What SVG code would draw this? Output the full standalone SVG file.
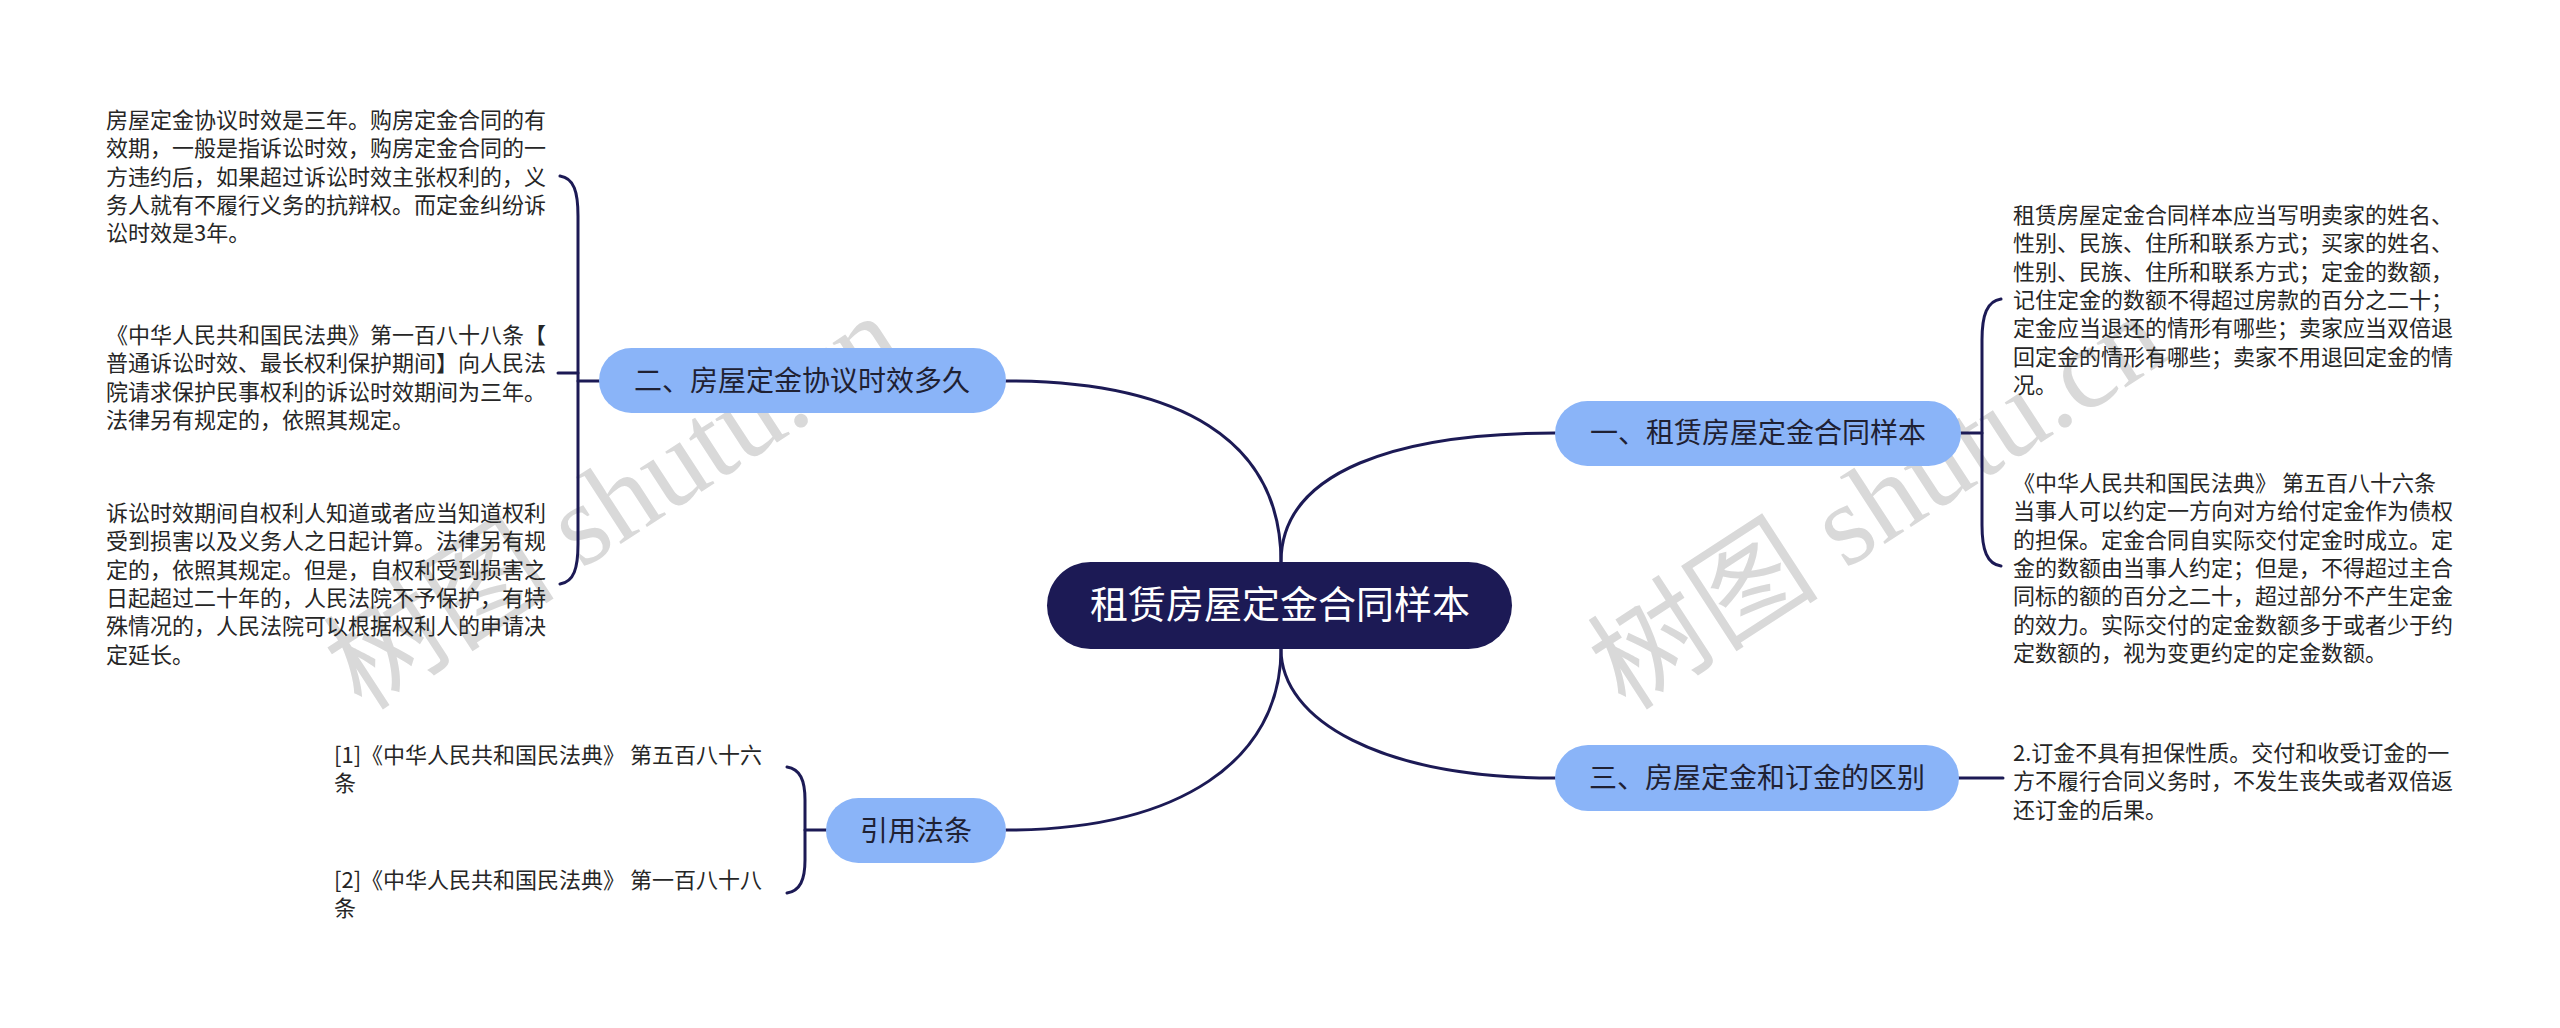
<svg xmlns="http://www.w3.org/2000/svg" width="2560" height="1028" viewBox="0 0 2560 1028">
<style>
.wm{font-family:"Liberation Serif","Noto Sans CJK SC",serif;font-size:116px;fill:#d9d9d9;}
.c{fill:none;stroke:#1c1a55;stroke-width:3;stroke-linecap:round;}
.root{fill:#1c1a55;}
.sub{fill:#8ab4f8;}
.rt{font-family:"Noto Sans CJK SC","Noto Sans",sans-serif;font-size:38px;fill:#ffffff;text-anchor:middle;}
.st{font-family:"Noto Sans CJK SC","Noto Sans",sans-serif;font-size:28px;fill:#1f2133;text-anchor:middle;}
.t{font-family:"Noto Sans CJK SC","Noto Sans",sans-serif;font-size:22px;fill:#262626;}
</style>
<rect width="2560" height="1028" fill="#ffffff"/>
<g id="watermarks">
<text class="wm" transform="translate(362,712) rotate(-33)">树图 shutu.cn</text>
<text class="wm" transform="translate(1626,712) rotate(-33)">树图 shutu.cn</text>
</g>
<g id="connectors">
<path class="c" d="M1281,562 C1281,440 1180,381 1006,381"/>
<path class="c" d="M1281,562 C1281,470 1400,433 1555,433"/>
<path class="c" d="M1281,649 C1281,720 1380,778 1555,778"/>
<path class="c" d="M1281,649 C1281,760 1180,830 1006,830"/>
<path class="c" d="M560,176 C574,178 578,192 578,216 L578,544 C578,568 574,582 560,584"/>
<path class="c" d="M558,373 L578,373"/>
<path class="c" d="M578,381 L599,381"/>
<path class="c" d="M2001,299 C1987,301 1982,315 1982,340 L1982,525 C1982,550 1987,564 2001,566"/>
<path class="c" d="M1961,433 L1982,433"/>
<path class="c" d="M787,767 C800,769 805,780 805,800 L805,860 C805,880 800,891 787,893"/>
<path class="c" d="M805,830 L826,830"/>
<path class="c" d="M1958,778 L2003,778"/>
</g>
<g id="root">
<rect class="root" x="1047" y="562" width="465" height="87" rx="43.5"/>
<text class="rt" x="1280" y="618">租赁房屋定金合同样本</text>
</g>
<g id="node-2">
<rect class="sub" x="599" y="348" width="407" height="65" rx="32.5"/>
<text class="st" x="802" y="391">二、房屋定金协议时效多久</text>
</g>
<g id="node-1">
<rect class="sub" x="1555" y="401" width="406" height="65" rx="32.5"/>
<text class="st" x="1758" y="443">一、租赁房屋定金合同样本</text>
</g>
<g id="node-3">
<rect class="sub" x="1555" y="745" width="404" height="66" rx="33"/>
<text class="st" x="1757" y="788">三、房屋定金和订金的区别</text>
</g>
<g id="node-ref">
<rect class="sub" x="826" y="798" width="180" height="65" rx="32.5"/>
<text class="st" x="916" y="841">引用法条</text>
</g>
<g id="leaf-2a">
<text class="t" x="106" y="128"><tspan x="106">房屋定金协议时效是三年。购房定金合同的有</tspan><tspan x="106" dy="28.3">效期，一般是指诉讼时效，购房定金合同的一</tspan><tspan x="106" dy="28.3">方违约后，如果超过诉讼时效主张权利的，义</tspan><tspan x="106" dy="28.3">务人就有不履行义务的抗辩权。而定金纠纷诉</tspan><tspan x="106" dy="28.3">讼时效是3年。</tspan></text>
</g>
<g id="leaf-2b">
<text class="t" x="106" y="343"><tspan x="106">《中华人民共和国民法典》第一百八十八条【</tspan><tspan x="106" dy="28.3">普通诉讼时效、最长权利保护期间】向人民法</tspan><tspan x="106" dy="28.3">院请求保护民事权利的诉讼时效期间为三年。</tspan><tspan x="106" dy="28.3">法律另有规定的，依照其规定。</tspan></text>
</g>
<g id="leaf-2c">
<text class="t" x="106" y="521"><tspan x="106">诉讼时效期间自权利人知道或者应当知道权利</tspan><tspan x="106" dy="28.3">受到损害以及义务人之日起计算。法律另有规</tspan><tspan x="106" dy="28.3">定的，依照其规定。但是，自权利受到损害之</tspan><tspan x="106" dy="28.3">日起超过二十年的，人民法院不予保护，有特</tspan><tspan x="106" dy="28.3">殊情况的，人民法院可以根据权利人的申请决</tspan><tspan x="106" dy="28.3">定延长。</tspan></text>
</g>
<g id="leaf-1a">
<text class="t" x="2013" y="223"><tspan x="2013">租赁房屋定金合同样本应当写明卖家的姓名、</tspan><tspan x="2013" dy="28.3">性别、民族、住所和联系方式；买家的姓名、</tspan><tspan x="2013" dy="28.3">性别、民族、住所和联系方式；定金的数额，</tspan><tspan x="2013" dy="28.3">记住定金的数额不得超过房款的百分之二十；</tspan><tspan x="2013" dy="28.3">定金应当退还的情形有哪些；卖家应当双倍退</tspan><tspan x="2013" dy="28.3">回定金的情形有哪些；卖家不用退回定金的情</tspan><tspan x="2013" dy="28.3">况。</tspan></text>
</g>
<g id="leaf-1b">
<text class="t" x="2013" y="491"><tspan x="2013">《中华人民共和国民法典》 第五百八十六条</tspan><tspan x="2013" dy="28.3">当事人可以约定一方向对方给付定金作为债权</tspan><tspan x="2013" dy="28.3">的担保。定金合同自实际交付定金时成立。定</tspan><tspan x="2013" dy="28.3">金的数额由当事人约定；但是，不得超过主合</tspan><tspan x="2013" dy="28.3">同标的额的百分之二十，超过部分不产生定金</tspan><tspan x="2013" dy="28.3">的效力。实际交付的定金数额多于或者少于约</tspan><tspan x="2013" dy="28.3">定数额的，视为变更约定的定金数额。</tspan></text>
</g>
<g id="leaf-3a">
<text class="t" x="2013" y="761"><tspan x="2013">2.订金不具有担保性质。交付和收受订金的一</tspan><tspan x="2013" dy="28.3">方不履行合同义务时，不发生丧失或者双倍返</tspan><tspan x="2013" dy="28.3">还订金的后果。</tspan></text>
</g>
<g id="leaf-ref1">
<text class="t" x="334" y="763"><tspan x="334">[1]《中华人民共和国民法典》 第五百八十六</tspan><tspan x="334" dy="28.3">条</tspan></text>
</g>
<g id="leaf-ref2">
<text class="t" x="334" y="888"><tspan x="334">[2]《中华人民共和国民法典》 第一百八十八</tspan><tspan x="334" dy="28.3">条</tspan></text>
</g>
</svg>
